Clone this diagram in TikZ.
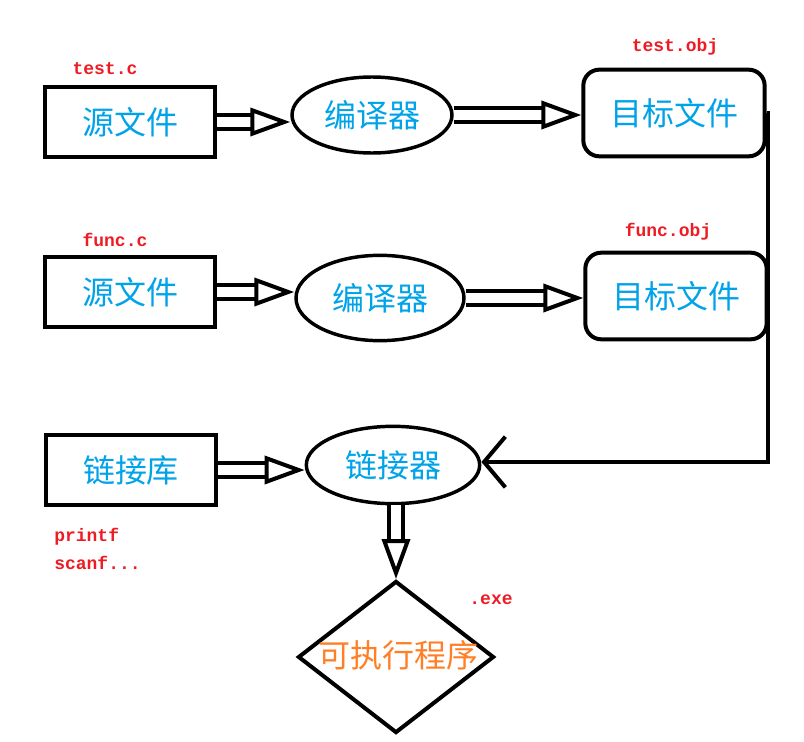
\documentclass[tikz,border=0pt]{standalone}
\usepackage{fontspec}
\setmainfont{Noto Sans CJK SC}
\newfontfamily\codefont{Liberation Mono}
\definecolor{textblue}{RGB}{0,162,232}
\definecolor{labelred}{RGB}{237,28,36}
\definecolor{exeorange}{RGB}{255,127,39}
\usetikzlibrary{positioning,shapes,arrows.meta,calc}

\begin{document}
\begin{tikzpicture}[x=0.75pt,y=-0.75pt,
    file/.style={draw,line width=3pt,minimum width=127pt,minimum height=52pt,text=textblue,font=\fontsize{24}{24}\selectfont},
    objfile/.style={file,rounded corners=12pt,minimum width=136pt,minimum height=65pt},
    tool/.style={draw,ellipse,line width=2.6pt,text=textblue,font=\fontsize{24}{24}\selectfont},
    tag/.style={text=labelred,font=\codefont\bfseries\fontsize{13.5}{15}\selectfont,inner sep=0pt},
    hollow/.style={draw,line width=3pt,double,double distance=8pt,-{Triangle[fill=white,line width=3pt,length=30pt,width=21pt]}},
    back/.style={draw,line width=3pt,-{Straight Barb[line width=3pt,length=16pt,width=38pt]}}]
    \useasboundingbox (0,0) rectangle (804,742);
    % first source file
    \node[file] (src1) at (130,122) {源文件};
    \node[tool,minimum width=120pt,minimum height=57pt] (cc1) at (372,115) {编译器};
    \node[objfile] (obj1) at (674,113) {目标文件};
    \node[tag] (t1) at (105,69) {test.c};
    \node[tag] (t2) at (675,47) {test.obj};
    % second source file
    \node[file] (src2) at (130,292) {源文件};
    \node[tool,minimum width=126pt,minimum height=64pt] (cc2) at (380,298) {编译器};
    \node[objfile] (obj2) at (676,296) {目标文件};
    \node[tag] (t3) at (115,240) {func.c};
    \node[tag] (t4) at (668,232) {func.obj};
    % linking
    \node[file] (lib) at (131,470) {链接库};
    \node[tool,minimum width=130pt,minimum height=58pt] (ld) at (393,465) {链接器};
    \node[tag,anchor=west] (t5) at (54,537) {printf};
    \node[tag,anchor=west] (t6) at (54,563) {scanf...};
    \node[draw,diamond,line width=3pt,minimum width=147pt,minimum height=114pt,inner sep=0pt] (exe) at (396,657) {};
    \node[text=exeorange,font=\fontsize{24}{24}\selectfont] (exetext) at (398,655) {可执行程序};
    \node[tag] (t7) at (491,600) {.exe};
    \coordinate (corner) at (768,462);

    \draw[hollow] (src1.east) -- (src1.east -| cc1.west);
    \draw[hollow] (cc1.east) -- (cc1.east -| obj1.west);
    \draw[hollow] (src2.east) -- (src2.east -| cc2.west);
    \draw[hollow] (cc2.east) -- (cc2.east -| obj2.west);
    \draw[hollow] (lib.east) -- (lib.east -| ld.west);
    \draw[hollow] (ld.south -| exe.north) -- (exe.north);
    \draw[back] (obj1.east) -| (corner) -- (corner -| ld.east);
\end{tikzpicture}
\end{document}
